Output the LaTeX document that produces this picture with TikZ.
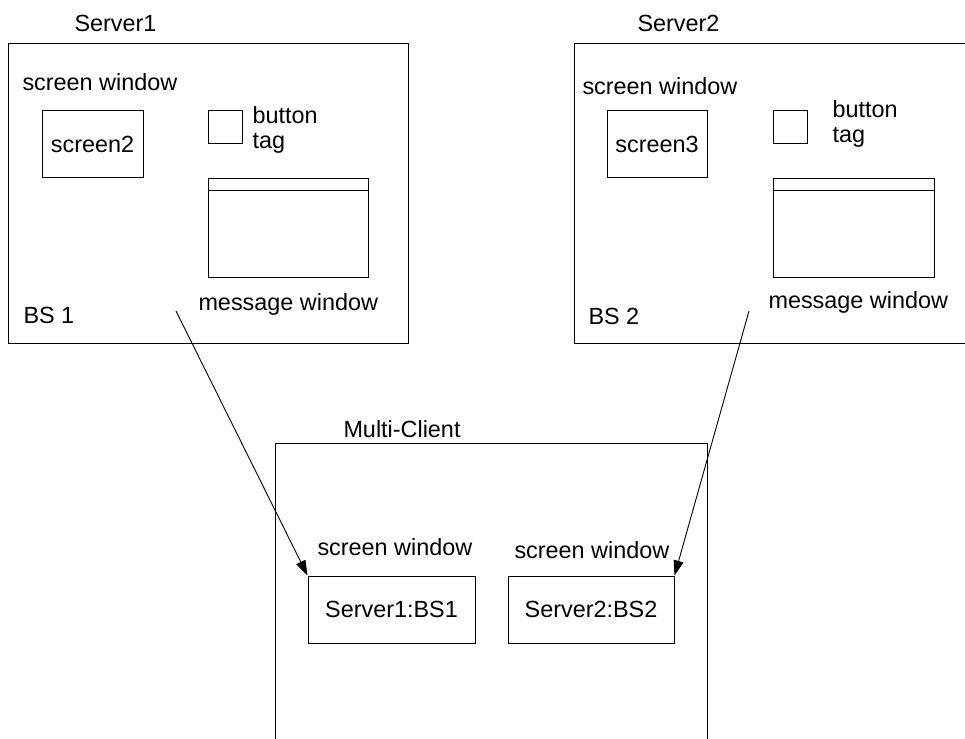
\documentclass[tikz,border=0pt]{standalone}
\usepackage{fontspec}
\setmainfont{Liberation Sans}
\usetikzlibrary{arrows.meta}
\begin{document}
\begin{tikzpicture}[x=1pt,y=-1pt,
  line width=1pt,
  box/.style={draw, rectangle, inner sep=0pt, line width=1pt},
  lbl/.style={inner sep=0pt, anchor=base west},
  link/.style={line width=0.9pt, -{Triangle[length=15pt,width=10pt]}},
  font=\fontsize{23.4}{25}\selectfont]
\clip (0,0) rectangle (965,738);
\useasboundingbox (0,0) rectangle (965,738);

% ---- Server1 ----
\node[box, minimum width=400pt, minimum height=299pt] (srv1) at (208,193.5) {};
\node[lbl] (srv1t) at (74,32) {Server1};
\node[lbl] (sw1) at (22,91) {screen window};
\node[box, minimum width=101pt, minimum height=66pt] (scr2) at (92.5,144) {screen2};
\node[box, minimum width=34pt, minimum height=33pt] (btn1) at (225,127.5) {};
% multi-line label: its base is the baseline of the last line
\node[lbl, align=left] (bt1) at (252,149) {button\\tag};
\node[box, minimum width=160pt, minimum height=99pt] (mw1) at (288,227.5) {};
\draw ([yshift=-13pt]mw1.north west) -- ([yshift=-13pt]mw1.north east);
\node[lbl] (mw1t) at (198,310) {message window};
\node[lbl] (bs1) at (23,323) {BS 1};

% ---- Server2 ----
\node[box, minimum width=400pt, minimum height=299pt] (srv2) at (774,193.5) {};
\node[lbl] (srv2t) at (637,32) {Server2};
\node[lbl] (sw2) at (582,95) {screen window};
\node[box, minimum width=100pt, minimum height=66pt] (scr3) at (657,144) {screen3};
\node[box, minimum width=34pt, minimum height=33pt] (btn2) at (790,127.5) {};
\node[lbl, align=left] (bt2) at (832,143) {button\\tag};
\node[box, minimum width=161pt, minimum height=99pt] (mw2) at (853.5,227.5) {};
\draw ([yshift=-13pt]mw2.north west) -- ([yshift=-13pt]mw2.north east);
\node[lbl] (mw2t) at (768,308) {message window};
\node[lbl] (bs2) at (588,324) {BS 2};

% ---- Multi-Client (open at the bottom) ----
\draw (275,745) -- (275,443) -- (707,443) -- (707,745);
\node[lbl] (mct) at (343,437) {Multi-Client};
\node[lbl] (sw3) at (317,555) {screen window};
\node[lbl] (sw4) at (514,558) {screen window};
\node[box, minimum width=167pt, minimum height=67pt] (c1) at (391.5,609.5) {Server1:BS1};
\node[box, minimum width=166pt, minimum height=67pt] (c2) at (591,609.5) {Server2:BS2};

% ---- links ----
\coordinate (from1) at (176,311);
\coordinate (from2) at (749,311);
\draw[link] (from1) -- (c1.north west);
\draw[link] (from2) -- (c2.north east);
\end{tikzpicture}
\end{document}
